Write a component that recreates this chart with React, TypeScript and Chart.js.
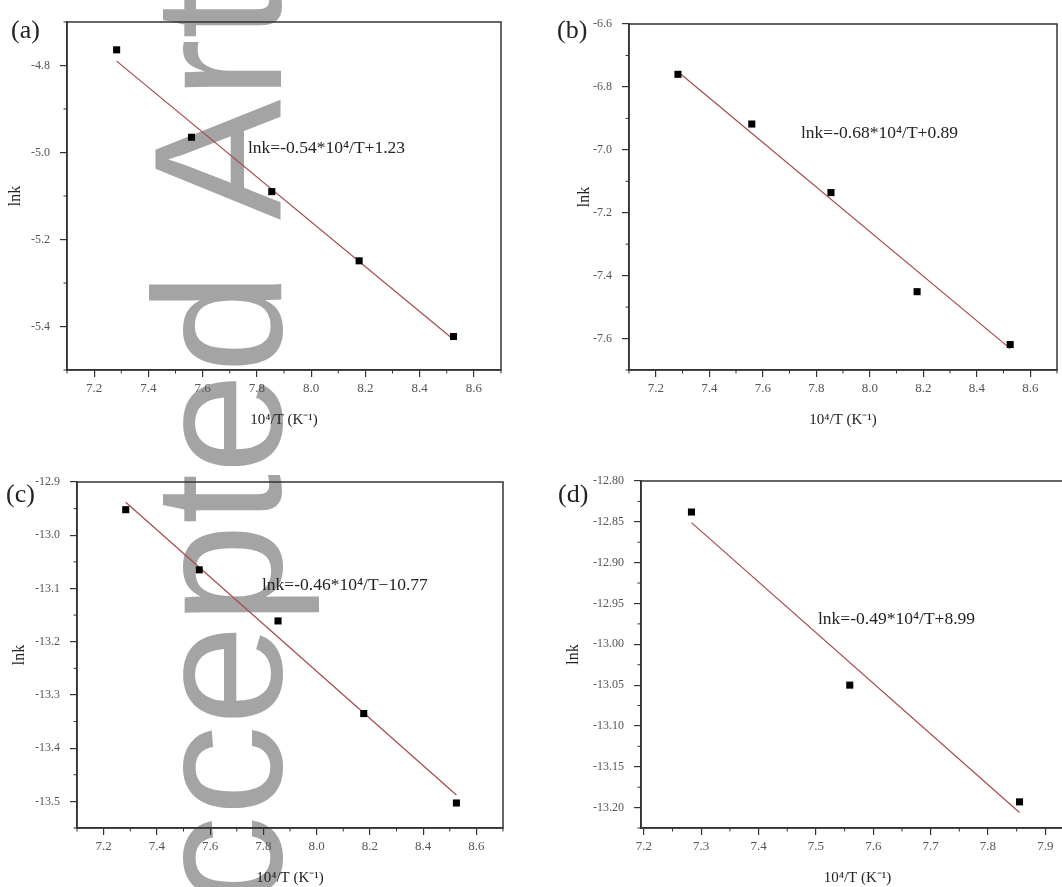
import React, { useEffect, useRef } from "react";
import { Chart, registerables } from "chart.js";
Chart.register(...registerables);

// ---------- data ----------
const invT = [7.283, 7.559, 7.855, 8.177, 8.525];
const lnkA = [-4.764, -4.965, -5.09, -5.249, -5.423];
const lnkB = [-6.76, -6.918, -7.136, -7.451, -7.619];
const lnkC = [-12.952, -13.065, -13.161, -13.335, -13.503];
const invTD = [7.283, 7.559, 7.855];
const lnkD = [-12.838, -13.05, -13.193];

const fitXA = [7.283, 8.525];
const fitYA = [-4.79, -5.43];
const fitXB = [7.283, 8.525];
const fitYB = [-6.752, -7.632];
const fitXC = [7.283, 8.525];
const fitYC = [-12.938, -13.488];
const fitXD = [7.283, 7.855];
const fitYD = [-12.851, -13.206];

const xMajorABC = [7.2, 7.4, 7.6, 7.8, 8.0, 8.2, 8.4, 8.6];
const xMinorABC = [7.1, 7.3, 7.5, 7.7, 7.9, 8.1, 8.3, 8.5, 8.7];
const xMajorD = [7.2, 7.3, 7.4, 7.5, 7.6, 7.7, 7.8, 7.9];
const xMinorD = [7.25, 7.35, 7.45, 7.55, 7.65, 7.75, 7.85, 7.95];
const yMajorA = [-4.8, -5.0, -5.2, -5.4];
const yMinorA = [-4.7, -4.9, -5.1, -5.3, -5.5];
const yMajorB = [-6.6, -6.8, -7.0, -7.2, -7.4, -7.6];
const yMinorB = [-6.7, -6.9, -7.1, -7.3, -7.5, -7.7];
const yMajorC = [-12.9, -13.0, -13.1, -13.2, -13.3, -13.4, -13.5];
const yMinorC = [-12.95, -13.05, -13.15, -13.25, -13.35, -13.45, -13.55];
const yMajorD = [-12.8, -12.85, -12.9, -12.95, -13.0, -13.05, -13.1, -13.15, -13.2];
const yMinorD = [-12.825, -12.875, -12.925, -12.975, -13.025, -13.075, -13.125, -13.175, -13.225];

const equations = [
  "lnk=-0.54*10\u2074/T+1.23",
  "lnk=-0.68*10\u2074/T+0.89",
  "lnk=-0.46*10\u2074/T\u221210.77",
  "lnk=-0.49*10\u2074/T+8.99",
];
const panelLabels = ["(a)", "(b)", "(c)", "(d)"];
const xTitle = "10\u2074/T (K\u207B\u00B9)";
const yTitle = "lnk";
const watermark = "Accepted Article";

// ---------- layout ----------
const SERIF = "'Liberation Serif', 'Times New Roman', serif";

type PanelCfg = {
  cx: number; cy: number; cw: number; ch: number;
  L: number; T: number; R: number; B: number;
  xmin: number; xmax: number; ymin: number; ymax: number;
  xs: number[]; ys: number[]; fx: number[]; fy: number[];
  xMaj: number[]; xMin: number[]; yMaj: number[]; yMin: number[];
  xDec: number; yDec: number;
  xTitlePad: number; yTitlePad: number;
};

const panels: PanelCfg[] = [
  { cx: 0, cy: 0, cw: 531, ch: 440, L: 67, T: 22, R: 501, B: 370,
    xmin: 7.1, xmax: 8.7, ymin: -5.5, ymax: -4.7,
    xs: invT, ys: lnkA, fx: fitXA, fy: fitYA,
    xMaj: xMajorABC, xMin: xMinorABC, yMaj: yMajorA, yMin: yMinorA,
    xDec: 1, yDec: 1, xTitlePad: 11, yTitlePad: 6 },
  { cx: 531, cy: 0, cw: 531, ch: 440, L: 629, T: 24, R: 1060, B: 370,
    xmin: 7.1, xmax: 8.7, ymin: -7.7, ymax: -6.6,
    xs: invT, ys: lnkB, fx: fitXB, fy: fitYB,
    xMaj: xMajorABC, xMin: xMinorABC, yMaj: yMajorB, yMin: yMinorB,
    xDec: 1, yDec: 1, xTitlePad: 11, yTitlePad: 44 },
  { cx: 0, cy: 440, cw: 531, ch: 447, L: 77, T: 482, R: 503, B: 828,
    xmin: 7.1, xmax: 8.7, ymin: -13.55, ymax: -12.9,
    xs: invT, ys: lnkC, fx: fitXC, fy: fitYC,
    xMaj: xMajorABC, xMin: xMinorABC, yMaj: yMajorC, yMin: yMinorC,
    xDec: 1, yDec: 1, xTitlePad: 0, yTitlePad: 10 },
  { cx: 531, cy: 440, cw: 560, ch: 447, L: 641, T: 481, R: 1074, B: 828,
    xmin: 7.195, xmax: 7.95, ymin: -13.225, ymax: -12.8,
    xs: invTD, ys: lnkD, fx: fitXD, fy: fitYD,
    xMaj: xMajorD, xMin: xMinorD, yMaj: yMajorD, yMin: yMinorD,
    xDec: 1, yDec: 2, xTitlePad: 0, yTitlePad: 33 },
];

const labelPos = [
  { left: 11, top: 17 }, { left: 557, top: 17 },
  { left: 6, top: 481 }, { left: 558, top: 481 },
];
const eqPos = [
  { left: 248, top: 139 }, { left: 801, top: 124 },
  { left: 262, top: 576 }, { left: 818, top: 610 },
];

const AXIS = "#333";

const framePlugin = {
  id: "frame",
  afterDraw(chart: any, _args: any, opts: any) {
    const { ctx, chartArea: a, scales } = chart;
    ctx.save();
    ctx.strokeStyle = AXIS;
    ctx.lineWidth = 1.5;
    ctx.strokeRect(a.left, a.top, a.right - a.left, a.bottom - a.top);
    ctx.lineWidth = 1;
    ctx.beginPath();
    for (const v of opts.xMin || []) {
      const px = scales.x.getPixelForValue(v);
      ctx.moveTo(px, a.bottom);
      ctx.lineTo(px, a.bottom + 3.5);
    }
    for (const v of opts.yMin || []) {
      const py = scales.y.getPixelForValue(v);
      ctx.moveTo(a.left, py);
      ctx.lineTo(a.left - 3.5, py);
    }
    ctx.stroke();
    ctx.restore();
  },
};

function Panel({ p }: { p: PanelCfg }) {
  const ref = useRef<HTMLCanvasElement | null>(null);
  useEffect(() => {
    if (!ref.current) return;
    const chart = new Chart(ref.current, {
      type: "scatter",
      data: {
        datasets: [
          {
            data: p.xs.map((x, i) => ({ x, y: p.ys[i] })),
            pointStyle: "rect",
            pointRadius: 5,
            backgroundColor: "#000",
            borderColor: "#000",
            borderWidth: 0,
            showLine: false,
          },
          {
            data: p.fx.map((x, i) => ({ x, y: p.fy[i] })),
            showLine: true,
            pointRadius: 0,
            borderColor: "#a8484a",
            borderWidth: 1.2,
            fill: false,
          },
        ],
      },
      options: {
        responsive: false,
        animation: false,
        devicePixelRatio: 1,
        events: [],
        layout: {
          padding: { left: 0, bottom: 0, top: p.T - p.cy, right: p.cx + p.cw - p.R },
        },
        plugins: {
          legend: { display: false },
          tooltip: { enabled: false },
          frame: { xMin: p.xMin, yMin: p.yMin },
        } as any,
        scales: {
          x: {
            type: "linear",
            min: p.xmin,
            max: p.xmax,
            afterBuildTicks: (s: any) => { s.ticks = p.xMaj.map((v) => ({ value: v })); },
            afterFit: (s: any) => { s.height = p.cy + p.ch - p.B; },
            ticks: {
              autoSkip: false,
              maxRotation: 0,
              padding: 4,
              color: "#555",
              font: { family: SERIF, size: 13 },
              callback: (v: any) => Number(v).toFixed(p.xDec),
            },
            grid: { drawOnChartArea: false, drawTicks: true, tickLength: 7, color: AXIS, lineWidth: 1.2 },
            border: { display: true, color: AXIS, width: 1.5 },
            title: {
              display: true,
              text: xTitle,
              color: "#222",
              font: { family: SERIF, size: 15 },
              padding: { top: 0, bottom: p.xTitlePad },
            },
          },
          y: {
            type: "linear",
            min: p.ymin,
            max: p.ymax,
            afterBuildTicks: (s: any) => { s.ticks = p.yMaj.map((v) => ({ value: v })); },
            afterFit: (s: any) => { s.width = p.L - p.cx; },
            ticks: {
              autoSkip: false,
              padding: 10,
              color: "#555",
              font: { family: SERIF, size: 12 },
              callback: (v: any) => Number(v).toFixed(p.yDec),
            },
            grid: { drawOnChartArea: false, drawTicks: true, tickLength: 7, color: AXIS, lineWidth: 1.2 },
            border: { display: true, color: AXIS, width: 1.5 },
            title: {
              display: true,
              text: yTitle,
              color: "#222",
              font: { family: SERIF, size: 16 },
              padding: { top: p.yTitlePad, bottom: 0 },
            },
          },
        },
      },
      plugins: [framePlugin],
    });
    return () => chart.destroy();
  }, [p]);
  return (
    <canvas
      ref={ref}
      width={p.cw}
      height={p.ch}
      style={{ position: "absolute", left: p.cx, top: p.cy, width: p.cw, height: p.ch, zIndex: 1 }}
    />
  );
}

export default function App() {
  return (
    <div
      style={{
        position: "absolute",
        left: 0,
        top: 0,
        width: 1062,
        height: 887,
        overflow: "hidden",
        background: "#fff",
      }}
    >
      <svg
        width={1062}
        height={887}
        style={{ position: "absolute", left: 0, top: 0, zIndex: 0 }}
      >
        <text
          transform="translate(281 1027) rotate(-90)"
          fontFamily="'Liberation Sans', Arial, sans-serif"
          fontSize={181}
          wordSpacing={12}
          fill="#a4a4a4"
        >
          {watermark}
        </text>
      </svg>
      {panels.map((p, i) => (
        <Panel key={i} p={p} />
      ))}
      {panelLabels.map((t, i) => (
        <div
          key={"l" + i}
          style={{
            position: "absolute",
            left: labelPos[i].left,
            top: labelPos[i].top,
            fontFamily: SERIF,
            fontSize: 26,
            lineHeight: 1,
            color: "#222",
            zIndex: 2,
          }}
        >
          {t}
        </div>
      ))}
      {equations.map((t, i) => (
        <div
          key={"e" + i}
          style={{
            position: "absolute",
            left: eqPos[i].left,
            top: eqPos[i].top,
            fontFamily: SERIF,
            fontSize: 17.5,
            lineHeight: 1,
            color: "#222",
            whiteSpace: "nowrap",
            zIndex: 2,
          }}
        >
          {t}
        </div>
      ))}
    </div>
  );
}
